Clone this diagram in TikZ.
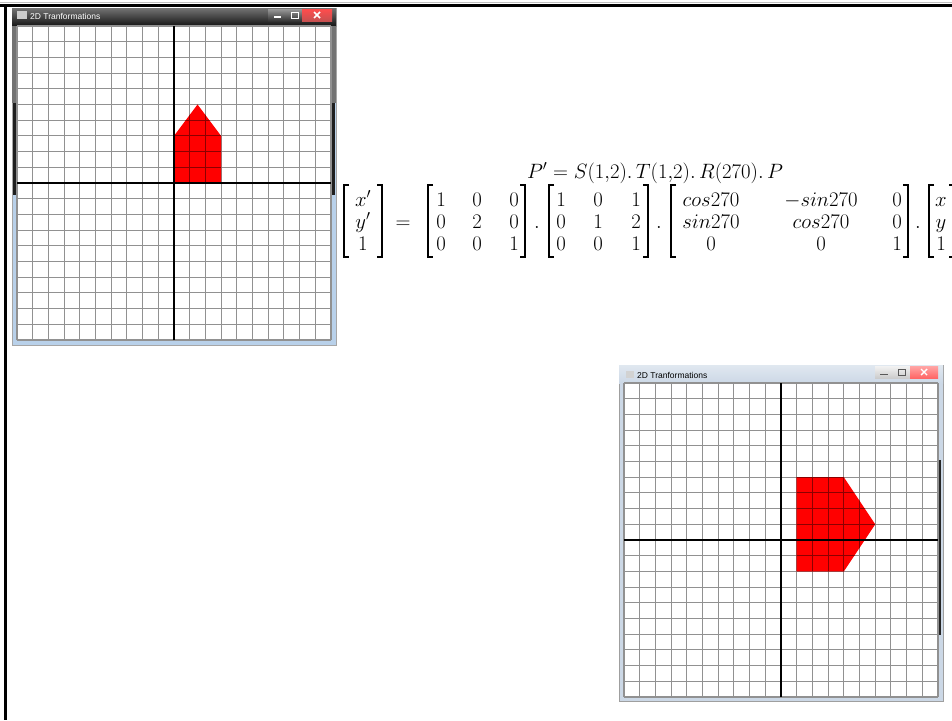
\documentclass[tikz,border=0pt]{standalone}
\usepackage{amsmath}
\usepackage{fontspec}
\newfontfamily\uifont{Liberation Sans}
\definecolor{aeroblue}{RGB}{185,209,234}
\definecolor{aerogray}{RGB}{204,216,230}
\definecolor{closered}{RGB}{199,80,80}
\definecolor{gridgray}{RGB}{145,145,145}
\tikzset{
  gline/.style={draw=gridgray, line width=1.15pt},
  rline/.style={draw=red!55!black, line width=1.1pt},
  axisline/.style={draw=black, line width=1.8pt},
  pageborder/.style={draw=black, line width=3pt},
  shapefill/.style={fill=red},
  ent/.style={inner sep=0pt, anchor=base, font=\fontsize{22.5}{27}\selectfont},
  brk/.style={draw=black, line width=1.5pt},
  titletxt/.style={inner sep=0pt, anchor=west, font=\uifont\fontsize{8.5}{10}\selectfont},
  pics/gridpane/.style={code={
    \fill[white] (-10,-10) rectangle (10,10);
    \foreach \i in {-10,...,10}{
      \draw[gline] (\i,-10) -- (\i,10);
      \draw[gline] (-10,\i) -- (10,\i);
    }
  }},
  pics/redgrid/.style={code={
    \foreach \i in {-10,...,10}{
      \draw[rline] (\i,-10) -- (\i,10);
      \draw[rline] (-10,\i) -- (10,\i);
    }
  }},
}
\begin{document}
\begin{tikzpicture}[x=1pt,y=-1pt]
\useasboundingbox (0,0) rectangle (952,720);
\fill[white] (0,0) rectangle (952,720);
\clip (0,0) rectangle (952,720);

% page border
\draw[gray!50, line width=1pt] (0,2.5) -- (952,2.5);
\draw[pageborder] (0,5.5) -- (952,5.5);
\draw[pageborder] (5.5,4) -- (5.5,720);

% ---------- top-left window ----------
\fill[aeroblue] (12,8) rectangle (336,345);
\draw[gray!70, line width=0.8pt] (12,8) rectangle (336,345);
\shade[top color=black!55, bottom color=black!92] (12,8) rectangle (336,26);
\fill[black!55] (12,26) rectangle (17,103);
\fill[black!55] (331,26) rectangle (336,103);
\fill[black!88] (13,103) rectangle (17,195);
\fill[black!88] (331,103) rectangle (335,195);
\fill[gray!40] (17,11) rectangle (27,19);
\node[titletxt, text=white] (t1) at (30,16) {2D Tranformations};
\shade[top color=black!40, bottom color=black!80] (268,9) rectangle (287,21);
\shade[top color=black!40, bottom color=black!80] (287,9) rectangle (302,21);
\shade[top color=red!70, bottom color=closered] (302,9) rectangle (332,21);
\draw[white, line width=1.2pt] (274,17) -- (281,17);
\draw[white, line width=1pt] (291,12) rectangle (298,18);
\draw[white, line width=1.5pt] (314,12) -- (320,18) (320,12) -- (314,18);

\begin{scope}[shift={(174,183)}, x=15.7pt, y=15.7pt]
  \pic (g1) {gridpane};
  \fill[shapefill] (0,0) -- (3,0) -- (3,3) -- (1.5,5) -- (0,3) -- cycle;
  \begin{scope}
    \clip (0,0) -- (3,0) -- (3,3) -- (1.5,5) -- (0,3) -- cycle;
    \pic (r1) {redgrid};
  \end{scope}
  \draw[axisline] (-10,0) -- (10,0);
  \draw[axisline] (0,-10) -- (0,10);
\end{scope}

% ---------- bottom-right window ----------
\fill[aerogray] (619,365) rectangle (943,701);
\draw[gray!75, line width=0.8pt] (619,365) rectangle (943,701);
\shade[top color=aerogray!60, bottom color=aerogray] (619,365) rectangle (943,383);
\fill[gray!35] (626,371) rectangle (634,378);
\node[titletxt, text=black] (t2) at (637,375) {2D Tranformations};
\shade[top color=gray!10, bottom color=gray!40] (875,366) rectangle (893,378);
\shade[top color=gray!10, bottom color=gray!40] (893,366) rectangle (910,378);
\shade[top color=red!35, bottom color=red!60] (910,366) rectangle (938,378);
\draw[gray!70!black, line width=1pt] (880,374) -- (888,374);
\draw[gray!70!black, line width=0.8pt] (898,369) rectangle (905,375);
\draw[white, line width=1.4pt] (921,369) -- (927,375) (927,369) -- (921,375);
\fill[black!85] (938,460) rectangle (941,635);

\begin{scope}[shift={(781,540)}, x=15.7pt, y=15.7pt]
  \pic (g2) {gridpane};
  \fill[shapefill] (1,4) -- (4,4) -- (6,1) -- (4,-2) -- (1,-2) -- cycle;
  \begin{scope}
    \clip (1,4) -- (4,4) -- (6,1) -- (4,-2) -- (1,-2) -- cycle;
    \pic (r2) {redgrid};
  \end{scope}
  \draw[axisline] (-10,0) -- (10,0);
  \draw[axisline] (0,-10) -- (0,10);
\end{scope}

% ---------- equation ----------
\node[ent] (pp) at (655,178) {$P' = S(1{,}2).\,T(1{,}2).\,R(270).\,P$};

\foreach \l/\r in {344/382, 428/525, 549/648, 671/908, 929/954}{
  \draw[brk] (\l+5,185) -- (\l,185) -- (\l,257) -- (\l+5,257);
  \draw[brk] (\r-5,185) -- (\r,185) -- (\r,257) -- (\r-5,257);
}

\foreach \e [count=\k] in {x',y',1}{
  \node[ent] (va\k) at (363,184+22*\k) {$\e$};
}
\node[ent] (eq) at (403,228) {$=$};
\foreach \a/\b/\c [count=\k] in {1/0/0,0/2/0,0/0/1}{
  \node[ent] (ma\k) at (441,184+22*\k) {$\a$};
  \node[ent] (mb\k) at (477,184+22*\k) {$\b$};
  \node[ent] (mc\k) at (514,184+22*\k) {$\c$};
}
\node[ent] (d1) at (537,228) {$.$};
\foreach \a/\b/\c [count=\k] in {1/0/1,0/1/2,0/0/1}{
  \node[ent] (na\k) at (561,184+22*\k) {$\a$};
  \node[ent] (nb\k) at (598,184+22*\k) {$\b$};
  \node[ent] (nc\k) at (636,184+22*\k) {$\c$};
}
\node[ent] (d2) at (659,228) {$.$};
\foreach \a/\b/\c [count=\k] in {cos270/-sin270/0,sin270/cos270/0,0/0/1}{
  \node[ent] (oa\k) at (711,184+22*\k) {$\a$};
  \node[ent] (ob\k) at (821,184+22*\k) {$\b$};
  \node[ent] (oc\k) at (897,184+22*\k) {$\c$};
}
\node[ent] (d3) at (918,228) {$.$};
\foreach \e [count=\k] in {x,y,1}{
  \node[ent] (wa\k) at (941,184+22*\k) {$\e$};
}
\end{tikzpicture}
\end{document}
